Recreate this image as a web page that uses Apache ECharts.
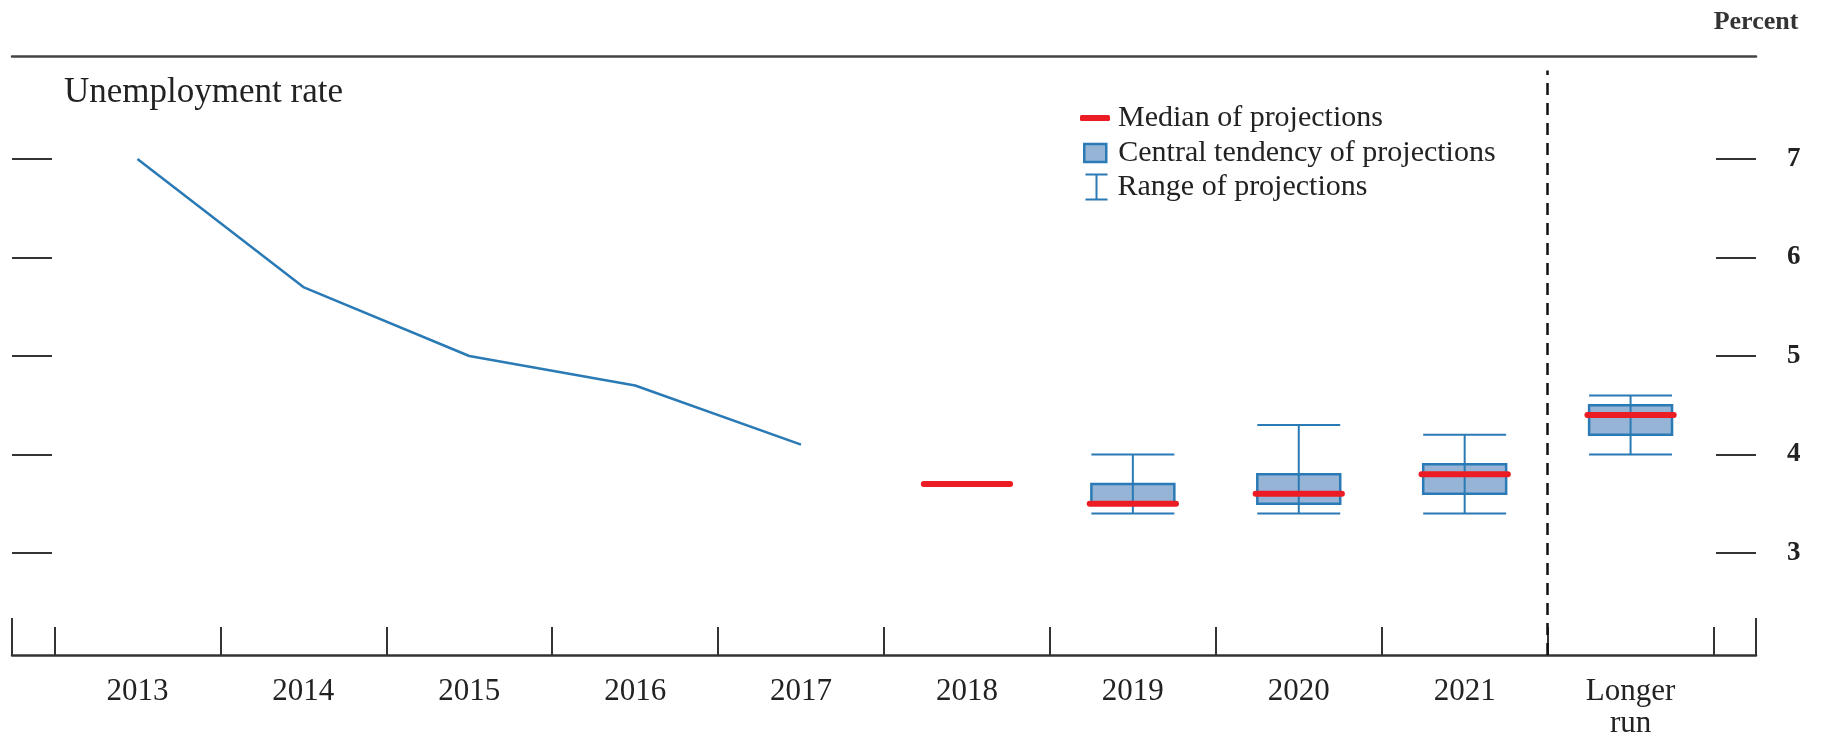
<!DOCTYPE html>
<html>
<head>
<meta charset="utf-8">
<script src="https://cdn.jsdelivr.net/npm/echarts@6/dist/echarts.min.js"></script>
<style>
  html, body { margin: 0; padding: 0; background: #fff; }
  #chart { width: 1823px; height: 736px; }
</style>
</head>
<body>
<div id="chart"></div>
<script>
// categories on the x axis
const categories = ['2013', '2014', '2015', '2016', '2017', '2018', '2019', '2020', '2021', 'Longer\nrun'];

// history (Q4 values)
const actualYears = ['2013', '2014', '2015', '2016', '2017'];
const actual = [7.0, 5.7, 5.0, 4.7, 4.1];

// projections
const projYears = ['2018', '2019', '2020', '2021', 'Longer\nrun'];
const median = [3.7, 3.5, 3.6, 3.8, 4.4];
const centralLow = [3.7, 3.5, 3.5, 3.6, 4.2];
const centralHigh = [3.7, 3.7, 3.8, 3.9, 4.5];
const rangeLow = [3.7, 3.4, 3.4, 3.4, 4.0];
const rangeHigh = [3.7, 4.0, 4.3, 4.2, 4.6];

const yTicks = [3, 4, 5, 6, 7];

const BLUE = '#2a7ab5';
const BOX_FILL = '#96b4d6';
const RED = '#ec1c24';
const FONT = 'Liberation Serif';

const xMin = -0.756, xMax = 9.756;
const yMin = 1.964, yMax = 8.046;
const boundaries = categories.map((c, i) => i - 0.5).concat([categories.length - 0.5]);
const idx = name => categories.indexOf(name);

const chart = echarts.init(document.getElementById('chart'));

const option = {
  animation: false,
  backgroundColor: '#fff',
  title: {
    text: 'Unemployment rate',
    left: 64,
    top: 75,
    padding: 0,
    textStyle: { fontFamily: FONT, fontSize: 35, fontWeight: 'normal', color: '#222' }
  },
  legend: [
    {
      data: ['Median of projections'],
      orient: 'vertical',
      left: 1080, top: 103, padding: 0,
      icon: 'roundRect', itemWidth: 30, itemHeight: 6,
      itemStyle: { color: RED },
      textStyle: { fontFamily: FONT, fontSize: 30, lineHeight: 30, color: '#222', padding: [0, 0, 0, 3] }
    },
    {
      data: ['Central tendency of projections'],
      orient: 'vertical',
      left: 1083, top: 138, padding: 0,
      icon: 'rect', itemWidth: 22, itemHeight: 18,
      itemStyle: { color: BOX_FILL, borderColor: BLUE, borderWidth: 2.5 },
      textStyle: { fontFamily: FONT, fontSize: 30, lineHeight: 30, color: '#222', padding: [0, 0, 0, 7] }
    },
    {
      data: ['Range of projections'],
      orient: 'vertical',
      left: 1083, top: 172, padding: 0,
      icon: 'path://M0,0H22M11,0V25M0,25H22', itemWidth: 22, itemHeight: 25,
      itemStyle: { color: 'none', borderColor: BLUE, borderWidth: 2 },
      textStyle: { fontFamily: FONT, fontSize: 30, lineHeight: 30, color: '#222', padding: [0, 0, 0, 5] }
    }
  ],
  grid: { left: 12, right: 67, top: 56, bottom: 81, containLabel: false, outerBoundsMode: 'none' },
  xAxis: [
    {
      type: 'value', min: xMin, max: xMax,
      axisLine: { show: true, onZero: false, lineStyle: { color: '#333', width: 2.5 } },
      axisTick: { show: true, inside: true, length: 28, customValues: boundaries, lineStyle: { color: '#333', width: 2 } },
      axisLabel: {
        show: true, margin: 21, customValues: categories.map((c, i) => i),
        formatter: v => categories[Math.round(v)],
        fontFamily: FONT, fontSize: 31, lineHeight: 32, color: '#222'
      },
      splitLine: { show: false }
    },
    {
      // short frame marks at both ends of the baseline
      type: 'value', min: xMin, max: xMax, position: 'bottom',
      axisLine: { show: false, onZero: false },
      axisTick: { show: true, inside: true, length: 37, customValues: [xMin, xMax], lineStyle: { color: '#333', width: 2 } },
      axisLabel: { show: false },
      splitLine: { show: false }
    },
    {
      // top rule
      type: 'value', min: xMin, max: xMax, position: 'top',
      axisLine: { show: true, onZero: false, lineStyle: { color: '#444', width: 2.5 } },
      axisTick: { show: false },
      axisLabel: { show: false },
      splitLine: { show: false }
    }
  ],
  yAxis: [
    {
      type: 'value', min: yMin, max: yMax, position: 'left',
      axisLine: { show: false, onZero: false },
      axisTick: { show: true, inside: true, length: 40, customValues: yTicks, lineStyle: { color: '#333', width: 2 } },
      axisLabel: { show: false },
      splitLine: { show: false }
    },
    {
      type: 'value', min: yMin, max: yMax, position: 'right',
      name: 'Percent', nameLocation: 'end', nameGap: 21,
      nameTextStyle: { fontFamily: FONT, fontSize: 26, fontWeight: 'bold', color: '#333', align: 'center' },
      axisLine: { show: false, onZero: false },
      axisTick: { show: true, inside: true, length: 40, customValues: yTicks, lineStyle: { color: '#333', width: 2 } },
      axisLabel: { show: true, margin: 31, customValues: yTicks, fontFamily: FONT, fontSize: 27, fontWeight: 'bold', color: '#222' },
      splitLine: { show: false }
    }
  ],
  series: [
    {
      name: 'Unemployment rate',
      type: 'line',
      data: actualYears.map((y, i) => [idx(y), actual[i]]),
      showSymbol: false,
      lineStyle: { color: BLUE, width: 2.5 },
      markLine: {
        silent: true,
        symbol: 'none',
        label: { show: false },
        lineStyle: { type: [12, 8], color: '#111', width: 2.5 },
        data: [[{ coord: [categories.length - 1.5, yMin] }, { coord: [categories.length - 1.5, 7.9] }]]
      }
    },
    {
      name: 'Central tendency of projections',
      type: 'custom',
      itemStyle: { color: BOX_FILL, borderColor: BLUE, borderWidth: 2.5 },
      data: projYears.map((y, i) => [idx(y), centralLow[i], centralHigh[i]]),
      encode: { x: 0, y: [1, 2] },
      renderItem: (params, api) => {
        const x = api.value(0);
        const p1 = api.coord([x - 0.25, api.value(2)]);
        const p2 = api.coord([x + 0.25, api.value(1)]);
        return {
          type: 'rect',
          shape: { x: p1[0], y: p1[1], width: p2[0] - p1[0], height: p2[1] - p1[1] },
          style: { fill: BOX_FILL, stroke: BLUE, lineWidth: 2.5 }
        };
      }
    },
    {
      name: 'Range of projections',
      type: 'custom',
      itemStyle: { color: 'none', borderColor: BLUE, borderWidth: 2 },
      data: projYears.map((y, i) => [idx(y), rangeLow[i], rangeHigh[i]]),
      encode: { x: 0, y: [1, 2] },
      renderItem: (params, api) => {
        const x = api.value(0);
        const lo = api.value(1), hi = api.value(2);
        const a = api.coord([x - 0.25, hi]), b = api.coord([x + 0.25, hi]);
        const c = api.coord([x - 0.25, lo]), d = api.coord([x + 0.25, lo]);
        const m1 = api.coord([x, hi]), m2 = api.coord([x, lo]);
        const st = { stroke: BLUE, lineWidth: 2, fill: null };
        return {
          type: 'group',
          children: [
            { type: 'line', shape: { x1: a[0], y1: a[1], x2: b[0], y2: b[1] }, style: st },
            { type: 'line', shape: { x1: c[0], y1: c[1], x2: d[0], y2: d[1] }, style: st },
            { type: 'line', shape: { x1: m1[0], y1: m1[1], x2: m2[0], y2: m2[1] }, style: st }
          ]
        };
      }
    },
    {
      name: 'Median of projections',
      type: 'custom',
      itemStyle: { color: RED },
      data: projYears.map((y, i) => [idx(y), median[i]]),
      encode: { x: 0, y: 1 },
      renderItem: (params, api) => {
        const x = api.value(0);
        const a = api.coord([x - 0.26, api.value(1)]);
        const b = api.coord([x + 0.26, api.value(1)]);
        return {
          type: 'line',
          shape: { x1: a[0], y1: a[1], x2: b[0], y2: b[1] },
          style: { stroke: RED, lineWidth: 6, lineCap: 'round' }
        };
      }
    }
  ]
};

chart.setOption(option);
</script>
</body>
</html>
